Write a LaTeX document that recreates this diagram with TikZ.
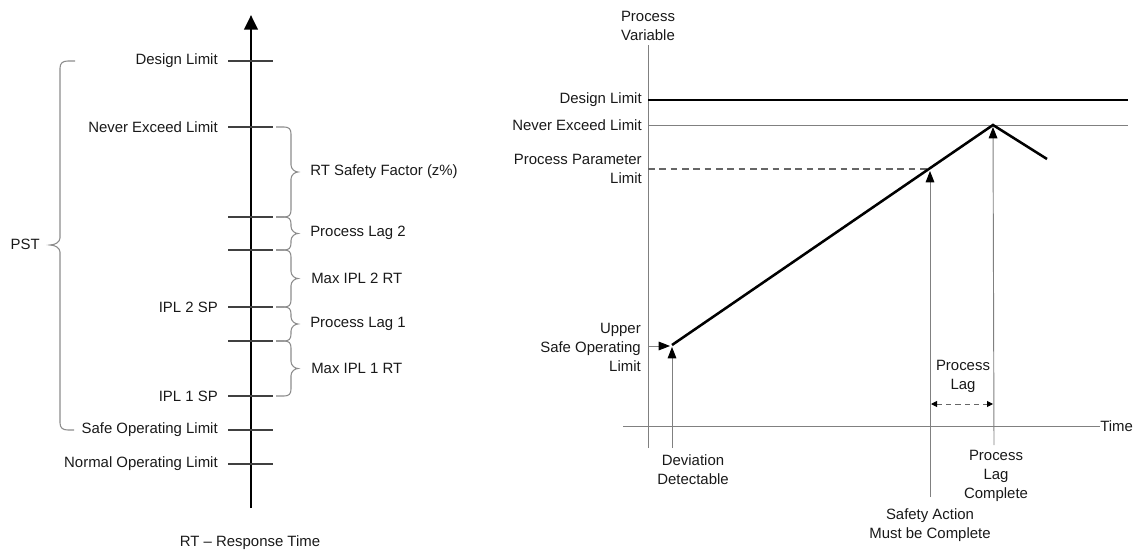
\documentclass[tikz,border=0pt]{standalone}
\usepackage{fontspec}
\setmainfont{Liberation Sans}
\usetikzlibrary{arrows.meta}
\begin{document}
\begin{tikzpicture}[x=0.75pt,y=-0.75pt,
  lbl/.style={font=\fontsize{11.2}{14.3}\selectfont, text=black!90, inner sep=0pt},
  tickline/.style={draw=black!75, line width=1pt},
  brc/.style={draw=black!45, line width=0.8pt},
  thinline/.style={draw=black!50, line width=0.7pt},
  thickline/.style={draw=black, line width=1.9pt, line join=miter},
  arr/.style={thinline, -{Triangle[length=8.5pt,width=6.5pt,color=black]}},
  smallarr/.style={draw=black!60, line width=0.7pt, dash pattern=on 4pt off 3pt,
     {Triangle[length=4.5pt,width=4.5pt,color=black]}-{Triangle[length=4.5pt,width=4.5pt,color=black]}}
]
\useasboundingbox (0,0) rectangle (1139,556);

% ---------------- left figure ----------------
\def\rbr#1#2{%
  \draw[brc] (276,#1) -- (284,#1) .. controls (289,#1) and (291,{#1+2}) .. (291,{#1+7})
    -- (291,{(#1+#2)/2-7}) .. controls (291,{(#1+#2)/2-3}) and (295,{(#1+#2)/2}) .. (298,{(#1+#2)/2})
    .. controls (295,{(#1+#2)/2}) and (291,{(#1+#2)/2+3}) .. (291,{(#1+#2)/2+7})
    -- (291,{#2-7}) .. controls (291,{#2-2}) and (289,#2) .. (284,#2) -- (276,#2);}

\coordinate (axb) at (251,508);
\coordinate (axt) at (251,15);
\draw[line width=2.2pt, -{Triangle[length=11pt,width=10pt]}] (axb) -- (axt);

\foreach \n/\y in {a/61,b/127,c/217,d/250,e/307,f/341,g/396,h/430,i/464}{
  \coordinate (tl\n) at (228,\y);
  \coordinate (tr\n) at (273,\y);
  \draw[tickline] (tl\n) -- (tr\n);
}
\node[lbl,anchor=east] (ldl) at (218,61) {Design Limit};
\node[lbl,anchor=east] (lnel) at (218,127) {Never Exceed Limit};
\node[lbl,anchor=east] (lipl2) at (218,307) {IPL 2 SP};
\node[lbl,anchor=east] (lipl1) at (218,396) {IPL 1 SP};
\node[lbl,anchor=east] (lsol) at (218,430) {Safe Operating Limit};
\node[lbl,anchor=east] (lnol) at (218,464) {Normal Operating Limit};

% PST brace (tip left)
\draw[brc] (75,61) -- (68,61) .. controls (63,61) and (60,63) .. (60,68)
  -- (60,238) .. controls (60,242) and (55,245) .. (50,245)
  .. controls (55,245) and (60,248) .. (60,252)
  -- (60,423) .. controls (60,428) and (63,430) .. (68,430) -- (74,430);
\node[lbl,anchor=east] (pst) at (40,244) {PST};

\rbr{127}{217}
\rbr{217}{250}
\rbr{250}{307}
\rbr{307}{341}
\rbr{341}{396}
\node[lbl,anchor=west] (rtsf) at (310,172) {RT Safety Factor (z\%)};
\node[lbl,anchor=west] (pl2) at (310,233) {Process Lag 2};
\node[lbl,anchor=west] (mi2) at (311,278) {Max IPL 2 RT};
\node[lbl,anchor=west] (pl1) at (310,324) {Process Lag 1};
\node[lbl,anchor=west] (mi1) at (311,368) {Max IPL 1 RT};

\node[lbl] (rt) at (250,543) {RT -- Response Time};

% ---------------- right figure ----------------
\coordinate (vb) at (648,448);
\coordinate (vt) at (648,45);
\draw[thinline] (vb) -- (vt);
\node[lbl,align=center] (pv) at (648,26) {Process\\Variable};

\coordinate (dl0) at (648,100);
\coordinate (dl1) at (1128,100);
\draw[thickline] (dl0) -- (dl1);
\node[lbl,anchor=east] (rdl) at (642,100) {Design Limit};

\coordinate (ne0) at (648,125);
\coordinate (ne1) at (1128,125);
\draw[thinline] (ne0) -- (ne1);
\node[lbl,anchor=east] (rnel) at (642,125) {Never Exceed Limit};

\coordinate (p0) at (672,345);
\coordinate (pk) at (993,125);
\coordinate (pe) at (1047,159);
\coordinate (ppl) at (930,169);
\coordinate (ppl0) at (648,169);
\draw[draw=black!60, line width=0.8pt, dash pattern=on 5pt off 3.5pt] (ppl0) -- (ppl);
\node[lbl,anchor=east,align=right] (rppl) at (642,169) {Process Parameter\\Limit};

\draw[thickline] (p0) -- (pk) -- (pe);

\coordinate (ta0) at (623,426);
\coordinate (ta1) at (1100,426);
\draw[thinline] (ta0) -- (ta1);
\node[lbl,anchor=west] (time) at (1100,426) {Time};

\coordinate (us0) at (648,346);
\coordinate (us1) at (670,346);
\draw[arr] (us0) -- (us1);
\node[lbl,anchor=east,align=right] (usol) at (641,347) {Upper\\Safe Operating\\Limit};

\coordinate (dd0) at (672,448);
\coordinate (dd1) at (672,347);
\draw[arr] (dd0) -- (dd1);
\node[lbl,align=center] (dd) at (693,470) {Deviation\\Detectable};

\coordinate (sa0) at (930,497);
\coordinate (sa1) at (930,171);
\draw[arr] (sa0) -- (sa1);
\node[lbl,align=center] (sa) at (930,525) {Safety Action\\Must be Complete};

\coordinate (lc0) at (994,445);
\coordinate (lc1) at (993,127);
\draw[arr] (lc0) -- (lc1);
\node[lbl,align=center] (lc) at (996,476) {Process\\Lag\\Complete};

\coordinate (la0) at (931,404);
\coordinate (la1) at (993,404);
\draw[smallarr] (la0) -- (la1);
\node[lbl,align=center] (plag) at (963,376) {Process\\Lag};
\end{tikzpicture}
\end{document}
